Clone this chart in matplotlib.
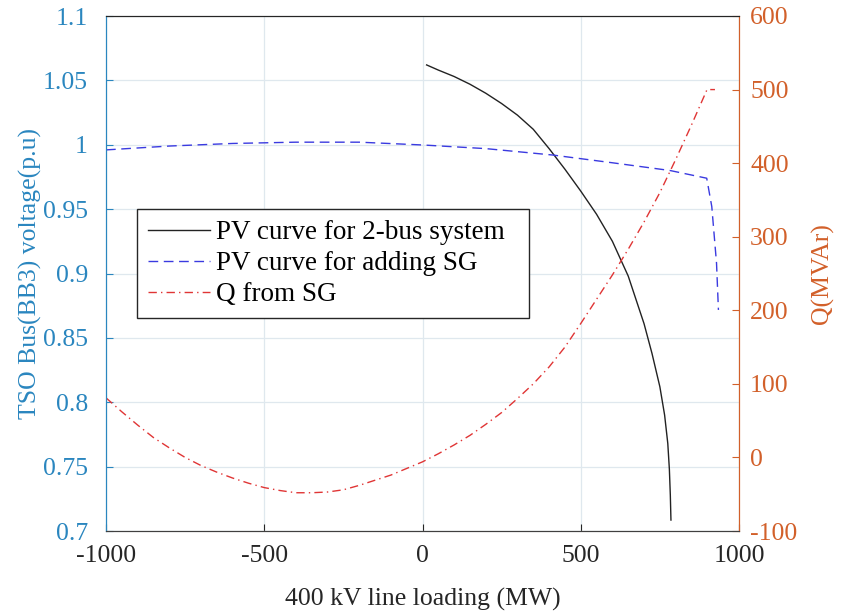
import matplotlib
matplotlib.use("Agg")
import matplotlib.pyplot as plt

# PV curve for 2-bus system
p_2bus = [13, 50, 100, 150, 200, 250, 300, 350, 400, 450, 500, 550, 600, 650, 700, 725, 750, 765, 775, 780, 783, 785]
v_2bus = [1.062, 1.058, 1.053, 1.047, 1.040, 1.032, 1.023, 1.012, 0.997, 0.981, 0.964, 0.946, 0.925, 0.898,
          0.861, 0.838, 0.812, 0.790, 0.768, 0.748, 0.728, 0.7085]

# PV curve for adding SG
p_sg = [-1000, -800, -600, -400, -200, 2, 200, 412, 600, 782, 898, 914, 929, 935]
v_sg = [0.996, 0.999, 1.001, 1.002, 1.002, 0.9998, 0.997, 0.992, 0.986, 0.980, 0.974, 0.952, 0.908, 0.8717]

# Q from SG
p_q = [-1000, -950, -900, -850, -800, -750, -700, -650, -600, -550, -500, -450, -400, -350, -300, -250,
       -200, -150, -100, -50, 0, 50, 100, 150, 200, 250, 300, 350, 400, 450, 500, 550, 600, 650, 700,
       750, 800, 850, 899, 924]
q_q = [81, 62, 44, 27, 13, 0, -11, -20, -28, -35, -41, -45, -48, -48, -47, -44,
       -38, -31, -24, -15, -6, 5, 17, 30, 45, 61, 80, 100, 123, 150, 182, 215, 248, 283, 320,
       360, 405, 452, 500, 500]

xticks = [-1000, -500, 0, 500, 1000]
yticks_l = [0.7, 0.75, 0.8, 0.85, 0.9, 0.95, 1.0, 1.05, 1.1]
ytick_l_labels = ["0.7", "0.75", "0.8", "0.85", "0.9", "0.95", "1", "1.05", "1.1"]
yticks_r = [-100, 0, 100, 200, 300, 400, 500, 600]

plt.rcParams['font.family'] = ['Liberation Serif', 'DejaVu Serif']
plt.rcParams['axes.unicode_minus'] = False
left_c = '#2a86bf'
right_c = '#d2602a'

fig = plt.figure(figsize=(8.44, 6.11), dpi=100)
ax = fig.add_axes([106/844, 1-531/611, 633/844, 515/611])
ax2 = ax.twinx()

ax.grid(True, color='#dfe8ee', linewidth=0.9)
ax.set_axisbelow(True)

l1, = ax.plot(p_2bus, v_2bus, color='#222222', linewidth=1.0, label='PV curve for 2-bus system  ')
l2, = ax.plot(p_sg, v_sg, color='#3a3ae0', linewidth=1.0, linestyle=(0, (7, 4)), label='PV curve for adding SG')
l3, = ax2.plot(p_q, q_q, color='#e03535', linewidth=1.0, linestyle=(0, (6, 3, 1, 3)), label='Q from SG')

ax.set_xlim(-1000, 1000)
ax.set_ylim(0.7, 1.1)
ax2.set_ylim(-100, 600)
ax.set_xticks(xticks)
ax.set_yticks(yticks_l)
ax.set_yticklabels(ytick_l_labels)
ax2.set_yticks(yticks_r)

fs = 18.5
ax.tick_params(axis='x', labelsize=fs, colors='#262626', direction='in', length=5, pad=10)
ax.tick_params(axis='y', labelsize=fs, colors=left_c, direction='in', length=5, pad=13)
ax2.tick_params(axis='y', labelsize=fs, colors=right_c, direction='in', length=5, pad=8)

ax2.spines['top'].set_color('#262626')
ax2.spines['bottom'].set_color('#404040')
ax2.spines['left'].set_color(left_c)
ax2.spines['right'].set_color(right_c)
ax.spines['left'].set_color(left_c)
ax.spines['right'].set_color(right_c)
ax.spines['bottom'].set_color('#404040')
ax.spines['top'].set_color('#262626')

ax.set_xlabel('400 kV line loading (MW)', fontsize=fs, color='#262626', labelpad=15)
ax.set_ylabel('TSO Bus(BB3) voltage(p.u)', fontsize=fs, color=left_c, labelpad=1)
ax2.set_ylabel('Q(MVAr)', fontsize=fs, color=right_c, labelpad=10)

leg = ax.legend(handles=[l1, l2, l3], loc='lower left', bbox_to_anchor=(0.049, (531 - 318) / 515),
                fontsize=19.5, frameon=True, fancybox=False, edgecolor='#262626',
                handlelength=2.3, handletextpad=0.2, borderpad=0.4, labelspacing=0.22,
                borderaxespad=0, framealpha=1)
leg.get_frame().set_linewidth(1.0)

fig.savefig('out.png', dpi=100)
